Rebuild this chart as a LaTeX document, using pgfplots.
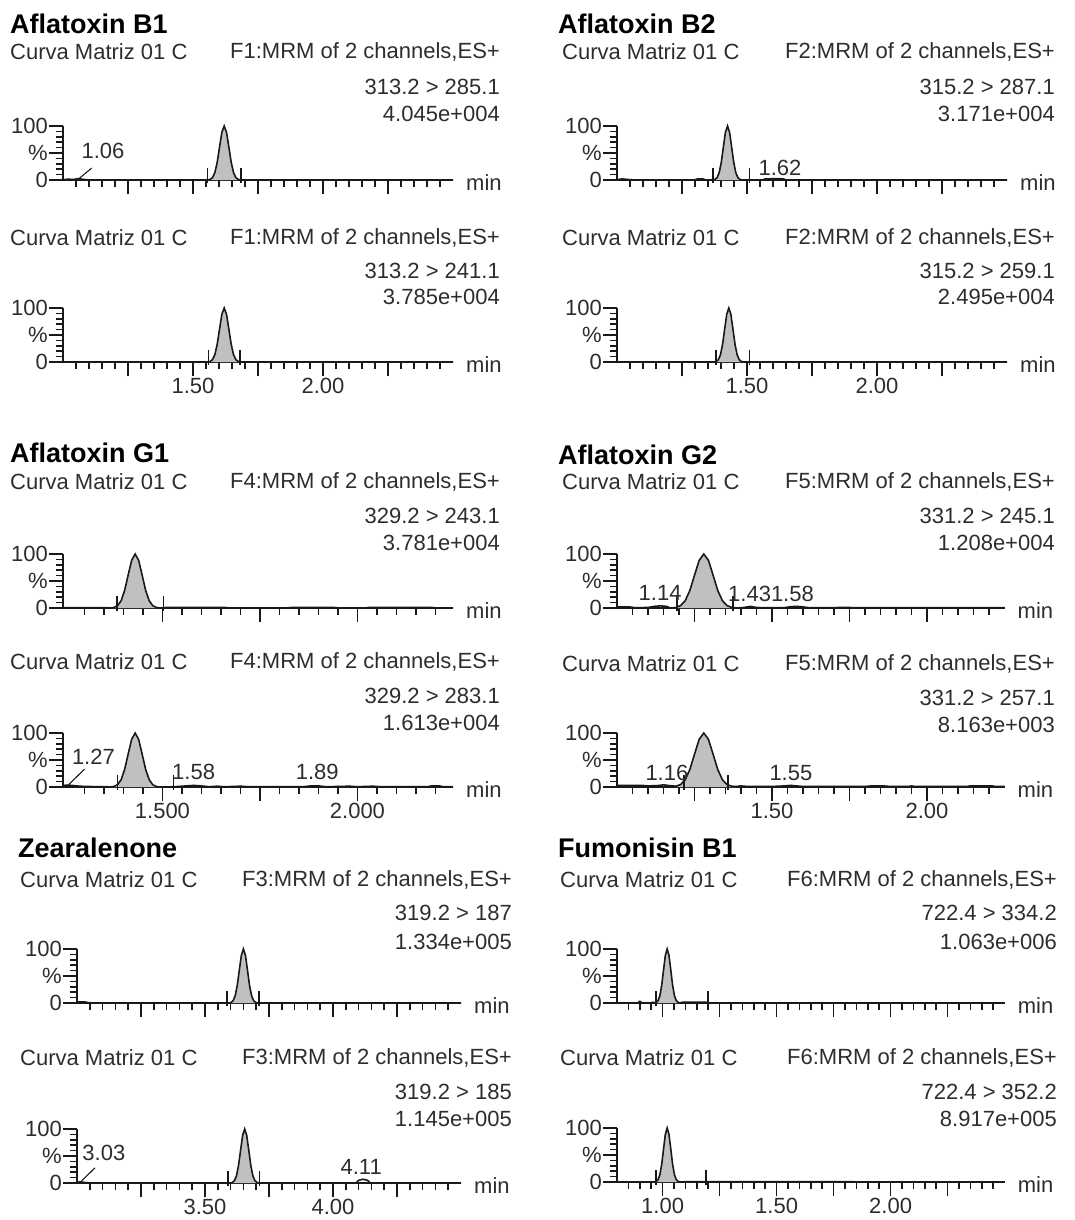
\documentclass[border=0pt]{standalone}
\usepackage{pgfplots}
\pgfplotsset{compat=1.18}
\usepackage{fontspec}
\setmainfont{Liberation Sans}
\definecolor{pk}{RGB}{192,192,192}
\definecolor{tx}{RGB}{45,45,45}
\definecolor{ln}{RGB}{25,25,25}
\tikzset{
  txt/.style={font=\fontsize{22}{26}\selectfont, text=tx, inner sep=0pt},
  ttl/.style={font=\fontsize{27}{30}\selectfont\bfseries, text=black, inner sep=0pt, anchor=west},
}
\pgfplotsset{
  chrom/.style={
    anchor=south west, scale only axis, height=54pt,
    ymin=0, ymax=100, clip=false,
    axis x line=bottom, axis y line=left,
    axis line style={-, line width=2.2pt, draw=ln},
    every tick/.append style={draw=ln, line width=1.5pt},
    tick align=outside,
    major tick length=14pt, minor tick length=7pt,
    ytick={0,50,100}, yticklabels={0,\%,100},
    minor ytick={10,20,30,40,60,70,80,90},
    tick label style={font=\fontsize{22}{26}\selectfont, text=tx},
    xticklabel style={inner sep=2pt},
    yticklabel style={inner sep=1pt},
  },
  area/.style={fill=pk, draw=none},
  trace/.style={draw=ln, line width=1.6pt},
  mk/.style={draw=ln, line width=1.5pt},
  lead/.style={draw=ln, line width=1.1pt},
}
\newcommand{\hdr}[8]{%
  \node[txt,anchor=west] at (#1pt,-#3pt) {Curva Matriz 01 C};
  \node[txt,anchor=east] at (#2pt,-#3pt) {#6};
  \node[txt,anchor=east] at (#2pt,-#4pt) {#7};
  \node[txt,anchor=east] at (#2pt,-#5pt) {#8};}
\newcommand{\minlabel}{\node[txt,anchor=west,xshift=13pt,yshift=-3pt] at (rel axis cs:1,0) {min};}
\begin{document}
\begin{tikzpicture}
\useasboundingbox (0pt,0pt) rectangle (1075pt,-1220pt);
% ---------------- Aflatoxin B1 ----------------
\node[ttl] at (10pt,-24pt) {Aflatoxin B1};
\hdr{10}{500}{52}{87}{114}{F1:MRM of 2 channels,ES+}{313.2 > 285.1}{4.045e+004}
\begin{axis}[chrom, at={(63pt,-180pt)}, width=390pt, xmin=1, xmax=2.5,
  xtick={1.25,1.5,1.75,2,2.25}, xticklabels={,,,,}, minor xtick={1.05,1.10,...,2.46}]
\addplot[area] coordinates {(1.557,0)(1.566,1.1)(1.575,4.4)(1.584,13.5)(1.593,32.5)(1.602,60.7)(1.611,88.2)(1.62,100)(1.629,88.2)(1.638,60.7)(1.647,32.5)(1.656,13.5)(1.665,4.4)(1.674,1.1)(1.683,0)} \closedcycle;
\addplot[trace] coordinates {(1.00,0.5)(1.02,1.5)(1.04,1)(1.06,2.5)(1.08,1)(1.10,0.3)(1.557,0)(1.566,1.1)(1.575,4.4)(1.584,13.5)(1.593,32.5)(1.602,60.7)(1.611,88.2)(1.62,100)(1.629,88.2)(1.638,60.7)(1.647,32.5)(1.656,13.5)(1.665,4.4)(1.674,1.1)(1.683,0)(2.50,0)};
\addplot[mk] coordinates {(1.555,-6)(1.555,22)};
\addplot[mk] coordinates {(1.685,-6)(1.685,22)};
\addplot[lead] coordinates {(1.06,2)(1.11,22)};
\node[txt] at (axis cs:1.154,53) {1.06};
\minlabel
\end{axis}
\hdr{10}{500}{238}{271}{297}{F1:MRM of 2 channels,ES+}{313.2 > 241.1}{3.785e+004}
\begin{axis}[chrom, at={(63pt,-362pt)}, width=390pt, xmin=1, xmax=2.5,
  xtick={1.25,1.5,1.75,2,2.25}, xticklabels={,1.50,,2.00,}, minor xtick={1.05,1.10,...,2.46}]
\addplot[area] coordinates {(1.557,0)(1.566,1.1)(1.575,4.4)(1.584,13.5)(1.593,32.5)(1.602,60.7)(1.611,88.2)(1.62,100)(1.629,88.2)(1.638,60.7)(1.647,32.5)(1.656,13.5)(1.665,4.4)(1.674,1.1)(1.683,0)} \closedcycle;
\addplot[trace] coordinates {(1.00,0.3)(1.557,0)(1.566,1.1)(1.575,4.4)(1.584,13.5)(1.593,32.5)(1.602,60.7)(1.611,88.2)(1.62,100)(1.629,88.2)(1.638,60.7)(1.647,32.5)(1.656,13.5)(1.665,4.4)(1.674,1.1)(1.683,0)(2.50,0)};
\addplot[mk] coordinates {(1.56,-6)(1.56,22)};
\addplot[mk] coordinates {(1.68,-6)(1.68,22)};
\minlabel
\end{axis}
% ---------------- Aflatoxin B2 ----------------
\node[ttl] at (558pt,-24pt) {Aflatoxin B2};
\hdr{562}{1055}{52}{87}{114}{F2:MRM of 2 channels,ES+}{315.2 > 287.1}{3.171e+004}
\begin{axis}[chrom, at={(617pt,-180pt)}, width=390pt, xmin=1, xmax=2.5,
  xtick={1.25,1.5,1.75,2,2.25}, xticklabels={,,,,}, minor xtick={1.05,1.10,...,2.46}]
\addplot[area] coordinates {(1.369,0)(1.377,1.1)(1.385,4.4)(1.393,13.5)(1.401,32.5)(1.409,60.7)(1.417,88.2)(1.425,100)(1.433,88.2)(1.441,60.7)(1.449,32.5)(1.457,13.5)(1.465,4.4)(1.473,1.1)(1.481,0)} \closedcycle;
\addplot[trace] coordinates {(1.00,0.5)(1.02,2)(1.04,1)(1.06,0.3)(1.30,0.3)(1.31,2)(1.33,2)(1.34,0.3)(1.369,0)(1.377,1.1)(1.385,4.4)(1.393,13.5)(1.401,32.5)(1.409,60.7)(1.417,88.2)(1.425,100)(1.433,88.2)(1.441,60.7)(1.449,32.5)(1.457,13.5)(1.465,4.4)(1.473,1.1)(1.481,0)(1.56,0.3)(1.57,2)(1.62,2.5)(1.64,2)(1.65,0.3)(2.50,0)};
\addplot[mk] coordinates {(1.37,-6)(1.37,22)};
\addplot[mk] coordinates {(1.51,-6)(1.51,22)};
\node[txt] at (axis cs:1.627,22) {1.62};
\minlabel
\end{axis}
\hdr{562}{1055}{238}{271}{297}{F2:MRM of 2 channels,ES+}{315.2 > 259.1}{2.495e+004}
\begin{axis}[chrom, at={(617pt,-362pt)}, width=390pt, xmin=1, xmax=2.5,
  xtick={1.25,1.5,1.75,2,2.25}, xticklabels={,1.50,,2.00,}, minor xtick={1.05,1.10,...,2.46}]
\addplot[area] coordinates {(1.374,0)(1.382,1.1)(1.39,4.4)(1.398,13.5)(1.406,32.5)(1.414,60.7)(1.422,88.2)(1.43,100)(1.438,88.2)(1.446,60.7)(1.454,32.5)(1.462,13.5)(1.47,4.4)(1.478,1.1)(1.486,0)} \closedcycle;
\addplot[trace] coordinates {(1.00,0.3)(1.374,0)(1.382,1.1)(1.39,4.4)(1.398,13.5)(1.406,32.5)(1.414,60.7)(1.422,88.2)(1.43,100)(1.438,88.2)(1.446,60.7)(1.454,32.5)(1.462,13.5)(1.47,4.4)(1.478,1.1)(1.486,0)(2.50,0)};
\addplot[mk] coordinates {(1.38,-6)(1.38,22)};
\addplot[mk] coordinates {(1.51,-6)(1.51,22)};
\minlabel
\end{axis}
% ---------------- Aflatoxin G1 ----------------
\node[ttl] at (10pt,-453pt) {Aflatoxin G1};
\hdr{10}{500}{482}{516}{543}{F4:MRM of 2 channels,ES+}{329.2 > 243.1}{3.781e+004}
\begin{axis}[chrom, at={(63pt,-608pt)}, width=390pt, xmin=1.245, xmax=2.245,
  xtick={1.5,1.75,2}, xticklabels={,,}, minor xtick={1.30,1.35,...,2.21}]
\addplot[area] coordinates {(1.367,0)(1.376,1.1)(1.385,4.4)(1.394,13.5)(1.403,32.5)(1.412,60.7)(1.421,88.2)(1.43,100)(1.439,88.2)(1.448,60.7)(1.457,32.5)(1.466,13.5)(1.475,4.4)(1.484,1.1)(1.493,0)} \closedcycle;
\addplot[trace] coordinates {(1.245,0.5)(1.36,0.5)(1.367,0)(1.376,1.1)(1.385,4.4)(1.394,13.5)(1.403,32.5)(1.412,60.7)(1.421,88.2)(1.43,100)(1.439,88.2)(1.448,60.7)(1.457,32.5)(1.466,13.5)(1.475,4.4)(1.484,1.1)(1.493,0)(1.51,1)(1.60,1)(1.66,1)(1.67,0.3)(1.82,0.3)(1.83,1)(1.94,1)(1.95,0.3)(2.02,0.3)(2.03,1)(2.19,1)(2.20,0.3)(2.245,0.3)};
\addplot[mk] coordinates {(1.383,-6)(1.383,22)};
\addplot[mk] coordinates {(1.503,-6)(1.503,22)};
\minlabel
\end{axis}
\hdr{10}{500}{662}{696}{723}{F4:MRM of 2 channels,ES+}{329.2 > 283.1}{1.613e+004}
\begin{axis}[chrom, at={(63pt,-787pt)}, width=390pt, xmin=1.245, xmax=2.245,
  xtick={1.5,1.75,2}, xticklabels={1.500,,2.000}, minor xtick={1.30,1.35,...,2.21}]
\addplot[area] coordinates {(1.367,0)(1.376,1.1)(1.385,4.4)(1.394,13.5)(1.403,32.5)(1.412,60.7)(1.421,88.2)(1.43,100)(1.439,88.2)(1.448,60.7)(1.457,32.5)(1.466,13.5)(1.475,4.4)(1.484,1.1)(1.493,0)} \closedcycle;
\addplot[trace] coordinates {(1.245,3)(1.26,3.5)(1.28,2)(1.30,1)(1.36,0.5)(1.367,0)(1.376,1.1)(1.385,4.4)(1.394,13.5)(1.403,32.5)(1.412,60.7)(1.421,88.2)(1.43,100)(1.439,88.2)(1.448,60.7)(1.457,32.5)(1.466,13.5)(1.475,4.4)(1.484,1.1)(1.493,0)(1.53,0.5)(1.56,2)(1.58,3)(1.60,2)(1.62,0.5)(1.64,1.5)(1.66,0.5)(1.70,1.5)(1.72,0.5)(1.86,0.5)(1.88,2)(1.90,2)(1.92,0.5)(1.98,1.5)(2.00,0.5)(2.04,1.5)(2.06,0.5)(2.18,0.5)(2.19,2)(2.21,2)(2.22,0.5)(2.245,0.5)};
\addplot[mk] coordinates {(1.385,-6)(1.385,22)};
\addplot[mk] coordinates {(1.528,-6)(1.528,22)};
\addplot[lead] coordinates {(1.259,4)(1.30,33)};
\node[txt] at (axis cs:1.323,56) {1.27};
\node[txt] at (axis cs:1.58,28) {1.58};
\node[txt] at (axis cs:1.897,28) {1.89};
\minlabel
\end{axis}
% ---------------- Aflatoxin G2 ----------------
\node[ttl] at (558pt,-455pt) {Aflatoxin G2};
\hdr{562}{1055}{482}{516}{543}{F5:MRM of 2 channels,ES+}{331.2 > 245.1}{1.208e+004}
\begin{axis}[chrom, at={(617pt,-608pt)}, width=387.5pt, xmin=1, xmax=2.25,
  xtick={1.25,1.5,1.75,2}, xticklabels={,,,}, minor xtick={1.05,1.10,...,2.21}]
\addplot[area] coordinates {(1.175,0)(1.19,1.1)(1.205,4.4)(1.22,13.5)(1.235,32.5)(1.25,60.7)(1.265,88.2)(1.28,100)(1.295,88.2)(1.31,60.7)(1.325,32.5)(1.34,13.5)(1.355,4.4)(1.37,1.1)(1.385,0)} \closedcycle;
\addplot[trace] coordinates {(1.00,2)(1.04,2)(1.06,0.5)(1.10,1)(1.12,3)(1.14,4)(1.16,3)(1.17,0.5)(1.175,0)(1.19,1.1)(1.205,4.4)(1.22,13.5)(1.235,32.5)(1.25,60.7)(1.265,88.2)(1.28,100)(1.295,88.2)(1.31,60.7)(1.325,32.5)(1.34,13.5)(1.355,4.4)(1.37,1.1)(1.385,0)(1.41,1)(1.43,3)(1.45,1)(1.47,0.5)(1.54,0.5)(1.56,2.5)(1.58,3)(1.60,2)(1.62,0.5)(1.70,0.5)(1.72,1.2)(1.75,1.2)(1.76,0.5)(2.25,0.5)};
\addplot[mk] coordinates {(1.194,-6)(1.194,22)};
\addplot[mk] coordinates {(1.374,-6)(1.374,22)};
\node[txt] at (axis cs:1.139,27) {1.14};
\node[txt,anchor=west] at (axis cs:1.358,27) {1.431.58};
\minlabel
\end{axis}
\hdr{562}{1055}{664}{698}{725}{F5:MRM of 2 channels,ES+}{331.2 > 257.1}{8.163e+003}
\begin{axis}[chrom, at={(617pt,-787pt)}, width=387.5pt, xmin=1, xmax=2.25,
  xtick={1.25,1.5,1.75,2}, xticklabels={,1.50,,2.00}, minor xtick={1.05,1.10,...,2.21}]
\addplot[area] coordinates {(1.19,0)(1.205,4.4)(1.22,13.5)(1.235,32.5)(1.25,60.7)(1.265,88.2)(1.28,100)(1.295,88.2)(1.31,60.7)(1.325,32.5)(1.34,13.5)(1.355,4.4)(1.37,1.1)(1.385,0)} \closedcycle;
\addplot[trace] coordinates {(1.00,3)(1.08,3)(1.10,2)(1.13,2.5)(1.15,4)(1.17,2.5)(1.19,1.5)(1.205,4.4)(1.22,13.5)(1.235,32.5)(1.25,60.7)(1.265,88.2)(1.28,100)(1.295,88.2)(1.31,60.7)(1.325,32.5)(1.34,13.5)(1.355,4.4)(1.37,1.5)(1.385,1)(1.40,2)(1.42,1)(1.50,1)(1.54,2)(1.56,3)(1.58,2)(1.60,1)(1.80,1)(1.82,2)(1.86,2)(1.88,1)(1.94,1)(1.95,2)(1.96,1)(2.13,1)(2.14,2)(2.21,2)(2.22,1)(2.25,1)};
\addplot[mk] coordinates {(1.216,-6)(1.216,22)};
\addplot[mk] coordinates {(1.358,-6)(1.358,22)};
\node[txt] at (axis cs:1.161,26) {1.16};
\node[txt] at (axis cs:1.561,26) {1.55};
\minlabel
\end{axis}
% ---------------- Zearalenone ----------------
\node[ttl] at (18pt,-848pt) {Zearalenone};
\hdr{20}{512}{880}{913}{942}{F3:MRM of 2 channels,ES+}{319.2 > 187}{1.334e+005}
\begin{axis}[chrom, at={(77pt,-1003pt)}, width=384pt, xmin=3, xmax=4.5,
  xtick={3.25,3.5,3.75,4,4.25}, xticklabels={,,,,}, minor xtick={3.05,3.10,...,4.46}]
\addplot[area] coordinates {(3.594,0)(3.602,1.1)(3.61,4.4)(3.618,13.5)(3.626,32.5)(3.634,60.7)(3.642,88.2)(3.65,100)(3.658,88.2)(3.666,60.7)(3.674,32.5)(3.682,13.5)(3.69,4.4)(3.698,1.1)(3.706,0)} \closedcycle;
\addplot[trace] coordinates {(3.00,2)(3.03,2)(3.05,0.3)(3.594,0)(3.602,1.1)(3.61,4.4)(3.618,13.5)(3.626,32.5)(3.634,60.7)(3.642,88.2)(3.65,100)(3.658,88.2)(3.666,60.7)(3.674,32.5)(3.682,13.5)(3.69,4.4)(3.698,1.1)(3.706,0)(4.50,0)};
\addplot[mk] coordinates {(3.586,-6)(3.586,22)};
\addplot[mk] coordinates {(3.711,-6)(3.711,22)};
\minlabel
\end{axis}
\hdr{20}{512}{1058}{1092}{1119}{F3:MRM of 2 channels,ES+}{319.2 > 185}{1.145e+005}
\begin{axis}[chrom, at={(77pt,-1183pt)}, width=384pt, xmin=3, xmax=4.5,
  xtick={3.25,3.5,3.75,4,4.25}, xticklabels={,3.50,,4.00,}, minor xtick={3.05,3.10,...,4.46}]
\addplot[area] coordinates {(3.599,0)(3.607,1.1)(3.615,4.4)(3.623,13.5)(3.631,32.5)(3.639,60.7)(3.647,88.2)(3.655,100)(3.663,88.2)(3.671,60.7)(3.679,32.5)(3.687,13.5)(3.695,4.4)(3.703,1.1)(3.711,0)} \closedcycle;
\addplot[trace] coordinates {(3.00,1)(3.01,2)(3.03,1)(3.05,0.3)(3.599,0)(3.607,1.1)(3.615,4.4)(3.623,13.5)(3.631,32.5)(3.639,60.7)(3.647,88.2)(3.655,100)(3.663,88.2)(3.671,60.7)(3.679,32.5)(3.687,13.5)(3.695,4.4)(3.703,1.1)(3.711,0)(4.09,0.3)(4.10,5)(4.117,7)(4.135,5)(4.145,0.3)(4.50,0.3)};
\addplot[mk] coordinates {(3.59,-6)(3.59,22)};
\addplot[mk] coordinates {(3.713,-6)(3.713,22)};
\addplot[lead] coordinates {(3.012,1)(3.07,28)};
\node[txt] at (axis cs:3.105,56) {3.03};
\node[txt] at (axis cs:4.11,29) {4.11};
\minlabel
\end{axis}
% ---------------- Fumonisin B1 ----------------
\node[ttl] at (558pt,-848pt) {Fumonisin B1};
\hdr{560}{1057}{880}{913}{942}{F6:MRM of 2 channels,ES+}{722.4 > 334.2}{1.063e+006}
\begin{axis}[chrom, at={(617pt,-1003pt)}, width=387.6pt, xmin=0.8, xmax=2.5,
  xtick={1,1.25,1.5,1.75,2,2.25}, xticklabels={,,,,,}, minor xtick={0.85,0.90,...,2.46}]
\addplot[area] coordinates {(0.964,0)(0.972,1.1)(0.98,4.4)(0.988,13.5)(0.996,32.5)(1.004,60.7)(1.012,88.2)(1.02,100)(1.028,88.2)(1.036,60.7)(1.044,32.5)(1.052,13.5)(1.06,4.4)(1.068,1.1)(1.076,0)} \closedcycle;
\addplot[trace] coordinates {(0.80,0.3)(0.89,0.3)(0.90,3)(0.91,0.3)(0.95,0.3)(0.958,1.5)(0.964,0.5)(0.972,1.1)(0.98,4.4)(0.988,13.5)(0.996,32.5)(1.004,60.7)(1.012,88.2)(1.02,100)(1.028,88.2)(1.036,60.7)(1.044,32.5)(1.052,13.5)(1.06,4.4)(1.068,1.1)(1.076,0.5)(1.09,1.5)(1.19,1.5)(1.20,0.3)(2.50,0.3)};
\addplot[mk] coordinates {(0.97,-6)(0.97,22)};
\addplot[mk] coordinates {(1.20,-6)(1.20,22)};
\minlabel
\end{axis}
\hdr{560}{1057}{1058}{1092}{1119}{F6:MRM of 2 channels,ES+}{722.4 > 352.2}{8.917e+005}
\begin{axis}[chrom, at={(617pt,-1182pt)}, width=387.6pt, xmin=0.8, xmax=2.5,
  xtick={1,1.25,1.5,1.75,2,2.25}, xticklabels={1.00,,1.50,,2.00,}, minor xtick={0.85,0.90,...,2.46}]
\addplot[area] coordinates {(0.964,0)(0.972,1.1)(0.98,4.4)(0.988,13.5)(0.996,32.5)(1.004,60.7)(1.012,88.2)(1.02,100)(1.028,88.2)(1.036,60.7)(1.044,32.5)(1.052,13.5)(1.06,4.4)(1.068,1.1)(1.076,0)} \closedcycle;
\addplot[trace] coordinates {(0.80,0.3)(0.964,0)(0.972,1.1)(0.98,4.4)(0.988,13.5)(0.996,32.5)(1.004,60.7)(1.012,88.2)(1.02,100)(1.028,88.2)(1.036,60.7)(1.044,32.5)(1.052,13.5)(1.06,4.4)(1.068,1.1)(1.076,0)(1.10,0.5)(1.18,0.5)(2.50,0.3)};
\addplot[mk] coordinates {(0.97,-6)(0.97,22)};
\addplot[mk] coordinates {(1.19,-6)(1.19,22)};
\minlabel
\end{axis}
\end{tikzpicture}
\end{document}
